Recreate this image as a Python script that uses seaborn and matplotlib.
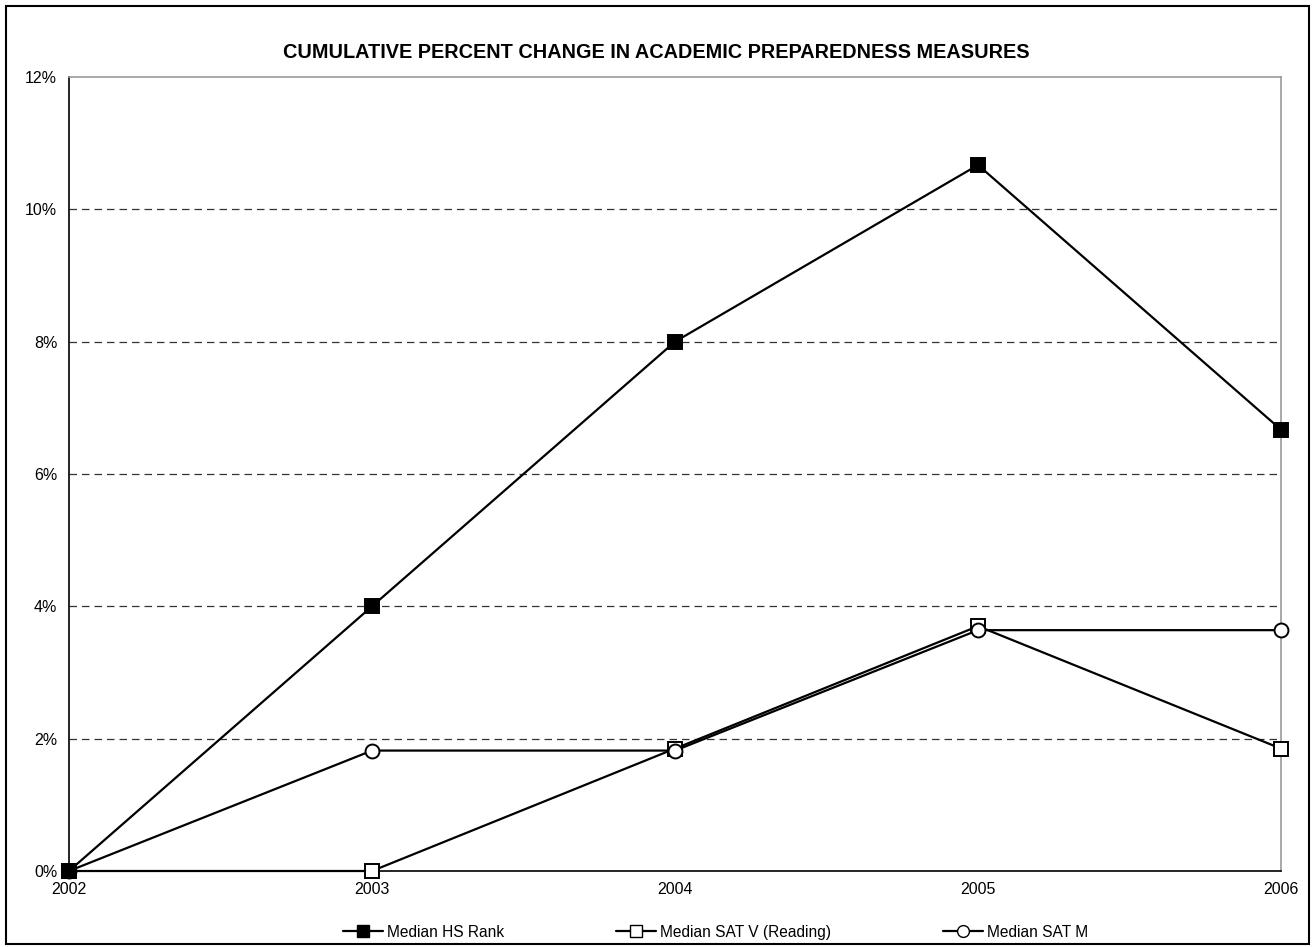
import numpy as np
import pandas as pd
import matplotlib.pyplot as plt
import seaborn as sns
from matplotlib.ticker import PercentFormatter
from matplotlib.patches import Rectangle

years = [2002, 2003, 2004, 2005, 2006]
hs_rank = [0.0, 4.0, 8.0, 10.67, 6.67]
sat_v = [0.0, 0.0, 1.85, 3.70, 1.85]
sat_m = [0.0, 1.82, 1.82, 3.64, 3.64]
series = ["Median HS Rank", "Median SAT V (Reading)", "Median SAT M"]

df = pd.DataFrame({
    "Year": years * 3,
    "Change": hs_rank + sat_v + sat_m,
    "Series": [s for s in series for _ in years],
})

sns.set_theme(style="white")
plt.rcParams["font.family"] = ["Liberation Sans", "DejaVu Sans"]
plt.rcParams["text.color"] = "black"

fig = plt.figure(figsize=(13.12, 9.47), dpi=100)
ax = fig.add_axes([69 / 1312, 1 - 871 / 947, (1281 - 69) / 1312, (871 - 77) / 947])

# gridlines first so lines sit on top
for v in [2, 4, 6, 8, 10]:
    ax.axhline(v, color="#333333", lw=0.9, dashes=(6, 4), zorder=0)

sns.lineplot(data=df, x="Year", y="Change", hue="Series", style="Series",
             palette=["black"] * 3, markers=["s", "s", "o"], dashes=False,
             linewidth=1.6, markersize=10, ax=ax, legend=False)

# marker faces: filled for HS Rank, hollow for the others
for line, face, z in zip(ax.lines[-3:], ["black", "white", "white"], [5, 3, 4]):
    line.set_markerfacecolor(face)
    line.set_markeredgecolor("black")
    line.set_markeredgewidth(1.4)
    line.set_clip_on(False)
    line.set_zorder(z)

ax.set_xlim(2002, 2006)
ax.set_ylim(0, 12)
ax.set_xticks(years)
ax.set_yticks(np.arange(0, 13, 2))
ax.yaxis.set_major_formatter(PercentFormatter(decimals=0))
ax.set_xlabel("")
ax.set_ylabel("")
ax.tick_params(axis="both", labelsize=11.5, colors="black", direction="out")
ax.tick_params(axis="y", length=5, width=1)
ax.tick_params(axis="x", length=0, pad=8)

for side in ["left", "bottom"]:
    ax.spines[side].set_color("black")
    ax.spines[side].set_linewidth(1.2)
for side in ["top", "right"]:
    ax.spines[side].set_color("#999999")
    ax.spines[side].set_linewidth(1.2)

fig.text(0.5, 1 - 52 / 947, "CUMULATIVE PERCENT CHANGE IN ACADEMIC PREPAREDNESS MEASURES",
         ha="center", va="center", fontsize=14.3, fontweight="bold", color="black")

handles = []
for name, mk, face in zip(series, ["s", "s", "o"], ["black", "white", "white"]):
    h, = ax.plot([], [], color="black", marker=mk, markerfacecolor=face,
                 markeredgecolor="black", markersize=8.5, lw=1.6, label=name)
    handles.append(h)
fig.legend(handles=handles, loc="center left", bbox_to_anchor=(343 / 1312, 1 - 932 / 947),
           ncol=3, frameon=False, handlelength=2.57, handletextpad=0.25,
           columnspacing=7.2, borderpad=0, borderaxespad=0,
           prop={"size": 11.2})

fig.add_artist(Rectangle((6 / 1312, 3 / 947), 1303 / 1312, 938 / 947,
                         transform=fig.transFigure, fill=False, ec="black", lw=1.5))

fig.savefig("out.png", dpi=100, facecolor="white")
